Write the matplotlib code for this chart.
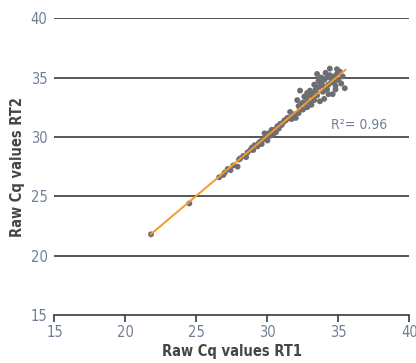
import numpy as np
import matplotlib
matplotlib.use('Agg')
import matplotlib.pyplot as plt

plt.rcParams['font.family'] = ['DejaVu Sans']
plt.rcParams['font.stretch'] = 'condensed'

# Cq values
rt1 = [21.8, 24.5,
       26.6, 26.9, 27.2, 27.4, 27.6, 27.9, 28.1, 28.3, 28.5, 28.6, 28.8, 29.0,
       29.1, 29.3, 29.4, 29.6, 29.7, 29.8, 29.9, 30.0, 30.1, 30.2, 30.3, 30.4,
       30.4, 30.5, 30.6, 30.7, 30.8, 31.0, 31.1, 31.3, 31.5, 31.6, 31.7, 31.8,
       31.9, 32.0, 32.1, 32.2, 32.3, 32.3, 32.5, 32.6, 32.7, 32.8, 32.9, 33.0,
       33.1, 33.2, 33.3, 33.4, 33.5, 33.5, 33.6, 33.7, 33.8, 33.9, 34.0, 34.1,
       34.2, 34.3, 34.3, 34.4, 34.4, 34.5, 34.6, 34.7, 34.8, 34.9, 35.0, 35.2,
       35.45, 33.0, 33.3, 33.8, 34.0, 34.6, 34.9, 32.9, 32.4, 33.6, 34.2, 35.1,
       32.6, 32.8, 33.1, 33.4, 33.7, 34.1, 34.5, 34.8, 35.3, 33.9, 34.7, 32.2,
       31.2, 30.9, 30.3, 29.5, 28.9, 28.0, 27.0, 31.4, 32.5, 33.2]
rt2 = [21.8, 24.4,
       26.6, 26.8, 27.3, 27.2, 27.6, 27.5, 28.2, 28.4, 28.3, 28.7, 28.9, 28.9,
       29.3, 29.2, 29.5, 29.4, 29.8, 30.3, 30.0, 29.7, 30.3, 30.1, 30.5, 30.2,
       30.5, 30.6, 30.4, 30.9, 30.7, 31.0, 31.2, 31.4, 31.6, 32.1, 31.5, 31.7,
       31.9, 31.6, 33.1, 32.0, 32.4, 33.9, 32.3, 32.8, 33.3, 33.7, 33.0, 33.9,
       32.7, 33.4, 33.1, 33.8, 33.5, 35.3, 34.2, 33.0, 34.5, 33.8, 34.8, 34.0,
       35.0, 34.4, 33.6, 35.2, 35.75, 34.6, 33.6, 35.1, 34.3, 35.7, 34.8, 34.5,
       34.1, 32.9, 34.4, 35.0, 33.2, 34.9, 35.3, 33.5, 32.8, 34.7, 34.0, 35.5,
       33.4, 32.5, 33.6, 34.0, 34.9, 35.4, 35.0, 34.0, 35.1, 34.3, 34.6, 32.6,
       31.4, 31.1, 30.6, 29.6, 29.1, 28.1, 27.0, 31.6, 32.9, 33.7]

fit_slope = 1.01
fit_intercept = -0.2
fit_range = [21.8, 35.5]
r2_label = 'R\u00b2= 0.96'

tick_col = '#6f7f96'
fig = plt.figure(figsize=(4.16, 3.63), dpi=100)
ax = fig.add_axes([0.131, 0.132, 0.853, 0.818])

for yv in [20, 25, 30, 35, 40]:
    ax.axhline(yv, color='#3a3a3a', lw=1.2, zorder=1)

ax.scatter(rt1, rt2, s=18, color='#6d6e71', edgecolors='none', zorder=2)
fx = np.array(fit_range)
ax.plot(fx, fit_slope * fx + fit_intercept, color='#f39a2b', lw=1.4, zorder=3)

ax.text(34.5, 31.0, r2_label, color=tick_col, fontsize=10, va='center', ha='left')

ax.set_xlim(15, 40)
ax.set_ylim(15, 40)
ax.set_xticks([15, 20, 25, 30, 35, 40])
ax.set_yticks([15, 20, 25, 30, 35, 40])
for s in ['top', 'right', 'left']:
    ax.spines[s].set_visible(False)
ax.spines['bottom'].set_color('#3a3a3a')
ax.spines['bottom'].set_linewidth(1.2)
ax.tick_params(axis='x', colors='#3a3a3a', labelcolor=tick_col, labelsize=10.5,
               length=5, width=1.2, pad=2)
ax.tick_params(axis='y', colors='#3a3a3a', labelcolor=tick_col, labelsize=10.5,
               length=0, pad=5)
ax.set_xlabel('Raw Cq values RT1', fontsize=10.5, fontweight='bold', color='#454545', labelpad=3)
ax.set_ylabel('Raw Cq values RT2', fontsize=10.5, fontweight='bold', color='#454545', labelpad=4)

fig.savefig('out.png', dpi=100)
